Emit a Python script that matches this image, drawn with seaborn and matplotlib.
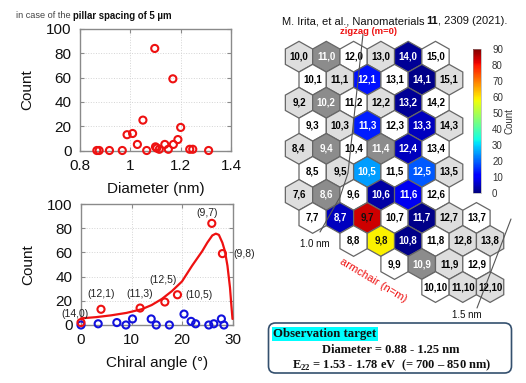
import numpy as np
import pandas as pd
import matplotlib
matplotlib.use("Agg")
import matplotlib.pyplot as plt
import seaborn as sns
from matplotlib.patches import RegularPolygon, FancyBboxPatch
from matplotlib import colors

# ---------------- data ----------------
diam_nm = [0.867, 0.876, 0.917, 0.968, 0.987, 1.009, 1.028, 1.050, 1.065, 1.097, 1.100,
           1.105, 1.115, 1.137, 1.151, 1.169, 1.171, 1.189, 1.200, 1.236, 1.248, 1.311]
diam_count = [0, 0, 0, 0, 13, 14, 5, 25, 0, 84, 3, 2, 1, 5, 1, 59, 5, 9, 19, 1, 1, 0]

labeled_names = ["(14,0)", "(12,1)", "(11,3)", "(12,5)", "(10,5)", "(9,7)", "(9,8)"]
labeled_angle = [0.0, 3.96, 11.7, 16.6, 19.1, 25.9, 28.0]
labeled_count = [2, 13, 14, 19, 25, 84, 59]

other_angle = [0.0, 3.4, 7.1, 8.9, 10.2, 13.9, 14.9, 17.5, 20.4, 21.8, 22.7, 25.3, 26.3, 27.8, 28.3]
other_count = [0, 1, 2, 0, 5, 5, 0, 0, 9, 3, 1, 0, 1, 5, 0]

fit_angle = [0, 3, 6, 9, 12, 14, 16, 18, 20, 22, 24, 25, 26, 26.7, 27.3, 28, 28.5, 29, 29.5, 29.8, 30]
fit_count = [5.5, 6.5, 8, 10, 13, 16.5, 21.5, 28, 36, 49, 61, 68, 74, 75.5, 74.5, 68, 61, 49, 31, 15, 5]

row_m = [0, 1, 2, 3, 4, 5, 6, 7, 8, 9, 10]
row_n_first = [10, 10, 9, 9, 8, 8, 7, 7, 8, 9, 10]
row_n_last = [15, 15, 14, 14, 13, 13, 12, 13, 13, 12, 12]

measured_chirality = ["14,0", "11,0", "12,1", "14,1", "10,2", "13,2", "11,3", "13,3", "9,4", "11,4",
                      "12,4", "10,5", "12,5", "8,6", "10,6", "11,6", "8,7", "9,7", "11,7", "9,8",
                      "10,8", "10,9"]
measured_count = [2, 0, 13, 1, 0, 2, 14, 5, 0, 0, 5, 25, 19, 0, 3, 9, 5, 84, 1, 59, 1, 0]

cbar_ticks = [0, 10, 20, 30, 40, 50, 60, 70, 80, 90]

# ---------------- style ----------------
sns.set_theme(style="white")
plt.rcParams['font.family'] = ['Liberation Sans', 'DejaVu Sans']
plt.rcParams['mathtext.fontset'] = 'custom'
plt.rcParams['mathtext.rm'] = 'Liberation Serif:bold'
plt.rcParams['mathtext.bf'] = 'Liberation Serif:bold'

W, H = 526, 383
fig = plt.figure(figsize=(W / 100, H / 100), dpi=100)
fig.patch.set_facecolor('white')


def px_axes(l, t, r, b):
    return fig.add_axes([l / W, (H - b) / H, (r - l) / W, (b - t) / H])


def style(ax):
    ax.set_facecolor('white')
    ax.grid(True, color='#d4d4d4', linestyle=':', linewidth=0.7)
    for s in ax.spines.values():
        s.set_visible(True)
        s.set_color('#8a8a8a')
        s.set_linewidth(1.0)
    ax.tick_params(direction='in', length=3, width=0.8, color='#8a8a8a',
                   top=True, right=True, bottom=True, left=True, labelsize=11,
                   labelcolor='#111111')
    ax.tick_params(axis='x', pad=6)
    ax.tick_params(axis='y', pad=6)


red = '#ee1111'
blue = '#1111dd'

# ---------- top-left: diameter ----------
ax1 = px_axes(80, 29, 231, 150.5)
df1 = pd.DataFrame({'d': diam_nm, 'c': diam_count})
sns.scatterplot(data=df1, x='d', y='c', ax=ax1, marker='o', s=26, facecolor='none',
                edgecolor=red, linewidth=1.5, clip_on=False, zorder=5)
ax1.set_xlim(0.8, 1.4)
ax1.set_ylim(0, 100)
ax1.set_xticks([0.8, 1.0, 1.2, 1.4])
ax1.set_xticklabels(['0.8', '1', '1.2', '1.4'])
ax1.set_yticks([0, 20, 40, 60, 80, 100])
style(ax1)
ax1.set_xlabel('Diameter (nm)', fontsize=11, color='#111111')
ax1.set_ylabel('Count', fontsize=11, color='#111111')
ax1.xaxis.set_label_coords(0.5, -0.26)
ax1.yaxis.set_label_coords(-0.30, 0.5)

# ---------- bottom-left: chiral angle ----------
ax2 = px_axes(81, 204, 232.5, 325)
dfo = pd.DataFrame({'a': other_angle, 'c': other_count})
dfl = pd.DataFrame({'a': labeled_angle, 'c': labeled_count})
dff = pd.DataFrame({'a': fit_angle, 'c': fit_count})
sns.lineplot(data=dff, x='a', y='c', ax=ax2, color=red, linewidth=1.6, sort=False,
             clip_on=False, zorder=4)
sns.scatterplot(data=dfo, x='a', y='c', ax=ax2, marker='o', s=26, facecolor='none',
                edgecolor=blue, linewidth=1.5, clip_on=False, zorder=5)
sns.scatterplot(data=dfl, x='a', y='c', ax=ax2, marker='o', s=26, facecolor='none',
                edgecolor=red, linewidth=1.5, clip_on=False, zorder=6)
ax2.set_xlim(0, 30)
ax2.set_ylim(0, 100)
ax2.set_xticks([0, 10, 20, 30])
ax2.set_yticks([0, 20, 40, 60, 80, 100])
style(ax2)
ax2.set_xlabel('Chiral angle (°)', fontsize=11, color='#111111')
ax2.set_ylabel('Count', fontsize=11, color='#111111')
ax2.xaxis.set_label_coords(0.5, -0.26)
ax2.yaxis.set_label_coords(-0.30, 0.5)

label_offsets = {"(14,0)": (-6, 9, 'center'), "(12,1)": (0, 15, 'center'),
                 "(11,3)": (0, 14, 'center'), "(12,5)": (-2, 22, 'center'),
                 "(10,5)": (8, 0, 'left'), "(9,7)": (-5, 10, 'center'),
                 "(9,8)": (11, 0, 'left')}
for name, a, c in zip(labeled_names, labeled_angle, labeled_count):
    dx, dy, ha = label_offsets[name]
    ax2.annotate(name, (a, c), xytext=(dx, dy), textcoords='offset pixels',
                 ha=ha, va='center', fontsize=7.5, color='#222222', zorder=7,
                 annotation_clip=False)

# ---------- right: chirality map ----------
ax3 = px_axes(280, 35, 470, 310)
ax3.set_xlim(9.304, 16.264)
ax3.set_ylim(-9.523, 0.816)
ax3.axis('off')
cmap = plt.get_cmap('jet')
norm = colors.Normalize(0, 90)
meas = dict(zip(measured_chirality, measured_count))
for m, n0, n1 in zip(row_m, row_n_first, row_n_last):
    for n in range(n0, n1 + 1):
        key = f"{n},{m}"
        x = n + m / 2.0
        y = -m * np.sqrt(3) / 2.0
        tcol = 'black'
        if key in meas:
            cnt = meas[key]
            if cnt == 0:
                fc = '#8c8c8c'
                tcol = 'white'
            else:
                fc = cmap(norm(cnt))
                tcol = 'white' if cnt < 40 else '#111111'
        elif (n - m) % 3 == 0:
            fc = 'white'
        else:
            fc = '#dedede'
        ax3.add_patch(RegularPolygon((x, y), numVertices=6, radius=1 / np.sqrt(3),
                                     orientation=0, facecolor=fc, edgecolor='#666666',
                                     linewidth=0.9, clip_on=False))
        ax3.text(x, y, key, ha='center', va='center', fontsize=7, fontweight='bold',
                 color=tcol, clip_on=False)

# colorbar
cax = px_axes(473, 49, 481, 193)
sm = plt.cm.ScalarMappable(norm=norm, cmap=cmap)
cb = fig.colorbar(sm, cax=cax, ticks=cbar_ticks)
cb.outline.set_linewidth(0.4)
cb.outline.set_edgecolor('#999999')
cax.tick_params(length=0, labelsize=7, pad=8, colors='#333333')
cb.set_label('Count', fontsize=7, color='#333333', labelpad=1)

# ---------- overlay annotations ----------
ov = fig.add_axes([0, 0, 1, 1])
ov.set_xlim(0, W)
ov.set_ylim(H, 0)
ov.axis('off')
ov.patch.set_alpha(0)

ov.text(16, 16, 'in case of the', fontsize=6.6, color='#444444', ha='left', va='center')
ov.text(73, 16, 'pillar spacing of 5 µm', fontsize=6.9, fontweight='bold',
        color='#111111', ha='left', va='center')

renderer = fig.canvas.get_renderer()
title_parts = [('M. Irita, et al., Nanomaterials', 'normal', 2.4), ('11', 'bold', 0.0),
               (', 2309 (2021).', 'normal', 0.0)]
tobjs, widths = [], []
for s, wgt, gap in title_parts:
    t = ov.text(0, 21.5, s, fontsize=8, fontweight=wgt, color='#111111',
                ha='left', va='center')
    tobjs.append(t)
    widths.append(t.get_window_extent(renderer=renderer).width + gap)
xcur = 394.5 - sum(widths) / 2
for t, wd in zip(tobjs, widths):
    t.set_x(xcur)
    xcur += wd

ov.text(369, 32, 'zigzag (m=0)', fontsize=6.8, fontweight='bold', color='#ee1111',
        ha='center', va='center')

ov.plot([363, 348, 340, 320], [34, 173, 197, 232], color='#555555', linewidth=0.8)
ov.text(315, 244, '1.0 nm', fontsize=7, color='#111111', ha='center', va='center')
ov.plot([511, 477], [219, 308], color='#555555', linewidth=0.8)
ov.text(467, 315, '1.5 nm', fontsize=7, color='#111111', ha='center', va='center')
ov.text(373, 280, 'armchair (n=m)', fontsize=8, color='#ee1111', rotation=-31,
        rotation_mode='anchor', ha='center', va='center')

box = FancyBboxPatch((268.5, 323), 243, 50, boxstyle='round,pad=0,rounding_size=7',
                     facecolor='white', edgecolor='#34506e', linewidth=1.2)
ov.add_patch(box)
ov.text(273, 334, 'Observation target', fontsize=9.2, fontweight='bold',
        family='Liberation Serif', color='#111111', ha='left', va='center',
        bbox=dict(facecolor='#00ffff', edgecolor='none', pad=1.0))
ov.text(391, 350, 'Diameter = 0.88 - 1.25 nm', fontsize=9, fontweight='bold',
        family='Liberation Serif', color='#111111', ha='center', va='center')
ov.text(391.5, 365, r'E$_{\mathbf{22}}$ = 1.53 - 1.78 eV  (= 700 – 850 nm)', fontsize=9,
        fontweight='bold', family='Liberation Serif', color='#111111',
        ha='center', va='center')

fig.savefig('out.png', dpi=100)
